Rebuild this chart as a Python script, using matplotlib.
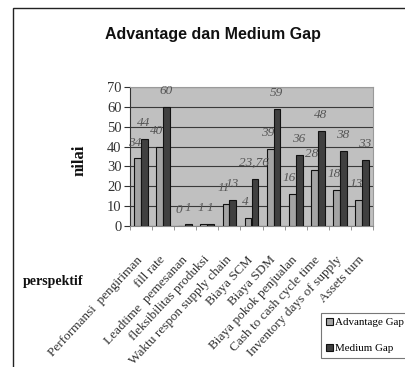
import matplotlib
matplotlib.use("Agg")
import matplotlib.pyplot as plt
import numpy as np
from matplotlib.patches import Rectangle

# data
categories = ["Performansi  pengiriman", "fill rate", "Leadtime  pemesanan",
              "fleksibilitas produksi", "Waktu respon supply chain", "Biaya SCM",
              "Biaya SDM", "Biaya pokok penjualan", "Cash to cash cycle time",
              "Inventory days of supply", "Assets turn"]
advantage_gap = [34, 40, 0, 1, 11, 4, 39, 16, 28, 18, 13]
medium_gap = [44, 60, 1, 1, 13, 23.76, 59, 36, 48, 38, 33]
yticks = [0, 10, 20, 30, 40, 50, 60, 70]

SERIF = "Liberation Serif"
SANS = "Liberation Sans"
C_ADV = "#a4a4a4"
C_MED = "#404040"


def fmt(v):
    s = f"{v:g}"
    return s.replace(".", ",")


fig = plt.figure(figsize=(4.05, 3.67), dpi=100)
W, H = 405, 367

# outer chart frame (left and top edges visible)
fig.patches.append(Rectangle((13 / W, -0.1), 1.2, 1 - 8 / H + 0.1,
                             transform=fig.transFigure, fill=False,
                             edgecolor="#222222", lw=1.0))

ax = fig.add_axes([130 / W, 1 - 226 / H, 243 / W, 139 / H])
ax.set_facecolor("#c0c0c0")

x = np.arange(len(categories))
bw = 0.31
ax.bar(x - bw / 2, advantage_gap, bw, color=C_ADV, edgecolor="#111111",
       lw=0.8, label="Advantage Gap", zorder=3)
ax.bar(x + bw / 2, medium_gap, bw, color=C_MED, edgecolor="#111111",
       lw=0.8, label="Medium Gap", zorder=3)

for xi, a, m in zip(x, advantage_gap, medium_gap):
    ax.annotate(fmt(a), (xi - bw / 2, a), xytext=(-2, 11.5),
                textcoords="offset points", ha="center", va="center",
                fontsize=9.5, fontstyle="italic", family=SERIF, color="#555555",
                zorder=4)
    ax.annotate(fmt(m), (xi + bw / 2, m), xytext=(-0.5, 11.5),
                textcoords="offset points", ha="center", va="center",
                fontsize=9.5, fontstyle="italic", family=SERIF, color="#555555",
                zorder=4)

ax.set_xlim(-0.5, len(categories) - 0.5)
ax.set_ylim(0, 70)
ax.set_yticks(yticks)
ax.yaxis.grid(True, color="#3a3a3a", lw=0.8, zorder=1)
ax.set_axisbelow(True)
ax.tick_params(axis="y", labelsize=10.5, colors="#333333", length=4,
               width=0.8, pad=2)
for lab in ax.get_yticklabels():
    lab.set_family(SERIF)

# category ticks sit between groups, labels at group centres
ax.set_xticks(np.arange(len(categories) + 1) - 0.5)
ax.set_xticklabels([])
ax.tick_params(axis="x", length=3, width=0.6, colors="#888888")
for xi, name in zip(x, categories):
    ax.annotate(name, (xi, 0), xytext=(0, -23), textcoords="offset points",
                rotation=47, rotation_mode="anchor", ha="right", va="center",
                fontsize=9.5, family=SERIF, color="#333333",
                annotation_clip=False)

for side in ("top", "right"):
    ax.spines[side].set_color("#9a9a9a")
ax.spines["bottom"].set_color("#888888")
ax.spines["left"].set_color("#333333")

fig.text(213 / W, 1 - 35 / H, "Advantage dan Medium Gap", ha="center",
         va="center", fontsize=11.5, fontweight="bold", family=SANS,
         color="#111111")
fig.text(80 / W, 1 - 160 / H, "nilai", rotation=90, ha="center", va="center",
         fontsize=12, fontweight="bold", family=SERIF, color="#111111")
fig.text(53 / W, 1 - 282 / H, "perspektif", ha="center", va="center",
         fontsize=10, fontweight="bold", family=SERIF, color="#111111")

leg = fig.legend(loc="upper left", bbox_to_anchor=(321 / W, 1 - 313 / H),
                 prop={"family": SERIF, "size": 7.9}, frameon=True, fancybox=False,
                 handlelength=0.6, handleheight=0.6, handletextpad=0.25,
                 labelspacing=1.5, borderpad=0.45, borderaxespad=0)
leg.get_frame().set_edgecolor("#555555")
leg.get_frame().set_linewidth(0.8)

fig.savefig("out.png", dpi=100, facecolor="white")
